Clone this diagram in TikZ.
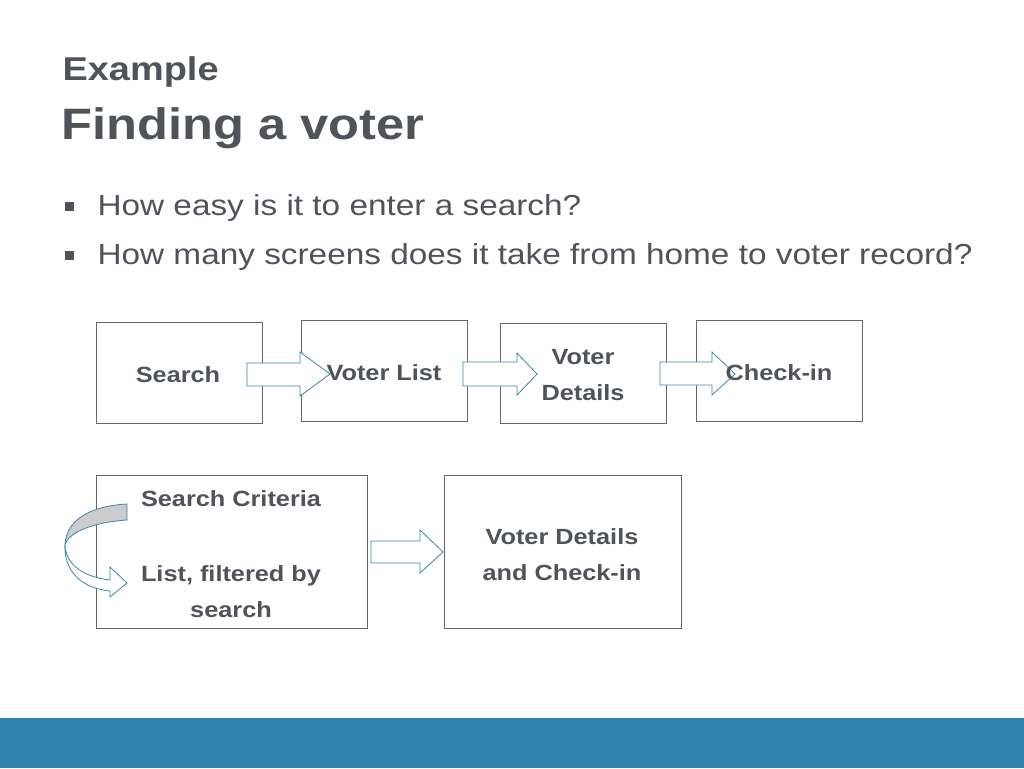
\documentclass[tikz,border=0pt]{standalone}
\usepackage{fontspec}
\setmainfont{Liberation Sans}[FakeStretch=1.15]
\begin{document}
\begin{tikzpicture}[x=1pt,y=-1pt,
  box/.style={draw=gray!80!black,line width=0.8pt,anchor=north west,inner sep=0pt},
  btxt/.style={font=\fontsize{22}{36}\selectfont\bfseries,text=txt,align=center},
  barr/.style={draw=arrb,line width=0.8pt,fill=white}]
\definecolor{txt}{HTML}{50545A}
\definecolor{arrb}{HTML}{3A86AE}
\definecolor{bar}{HTML}{2F84B0}
\useasboundingbox (0,0) rectangle (1024,768);
\fill[white] (0,0) rectangle (1024,768);
\fill[bar] (0,718) rectangle (1024,768);
\node[anchor=west,text=txt,font=\fontsize{33}{36}\selectfont\bfseries] (t1) at (59,72) {Example};
\node[anchor=west,text=txt,font=\fontsize{44}{50}\selectfont\bfseries] (t2) at (58,128) {Finding a voter};
\fill[txt] (65,202) rectangle (74,211);
\fill[txt] (65,251) rectangle (74,260);
\node[anchor=west,text=txt,font=\fontsize{29}{32}\selectfont] (b1) at (94,208) {How easy is it to enter a search?};
\node[anchor=west,text=txt,font=\fontsize{29}{32}\selectfont] (b2) at (94,257) {How many screens does it take from home to voter record?};
% boxes
\node[box,minimum width=166,minimum height=101] (s) at (96,322) {};
\node[btxt] at (178,375) {Search};
\node[box,minimum width=166,minimum height=101] (vl) at (301,320) {};
\node[btxt] at (384,373) {Voter List};
\node[box,minimum width=166,minimum height=100] (vd) at (500,323) {};
\node[btxt] at (583,375) {Voter\\Details};
\node[box,minimum width=166,minimum height=101] (ci) at (696,320) {};
\node[box,minimum width=271,minimum height=153] (sc) at (96,475) {};
\node[btxt] at (231,499) {Search Criteria};
\node[btxt] at (231,592) {List, filtered by\\search};
\node[box,minimum width=237,minimum height=153] (vc) at (444,475) {};
\node[btxt] at (562,555) {Voter Details\\and Check-in};
% block arrows
\draw[barr] (247,363)--(300,363)--(300,352)--(330,374)--(300,396)--(300,386)--(247,386)--cycle;
\draw[barr] (463,362)--(517,362)--(517,353)--(537,374)--(517,395)--(517,386)--(463,386)--cycle;
\draw[barr] (660,362)--(712,362)--(712,352)--(735,374)--(712,395)--(712,385)--(660,385)--cycle;
\node[btxt] at (779,373) {Check-in};
\draw[barr] (371,541)--(420,541)--(420,530)--(443,552)--(420,573)--(420,563)--(371,563)--cycle;
% curved arrow
\draw[barr,fill=gray!40] (127,504) .. controls (90,506) and (66,520) .. (65,545)
  .. controls (68,532) and (95,522) .. (127,520) -- cycle;
\draw[barr] (65,545) .. controls (66,566) and (85,577) .. (110,580) -- (110,567) -- (127,583)
  -- (110,597) -- (110,591) .. controls (80,588) and (64,570) .. (65,545) -- cycle;
\end{tikzpicture}
\end{document}
